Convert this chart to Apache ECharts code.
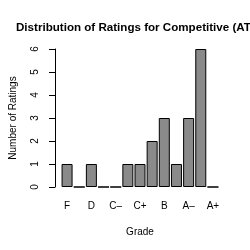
<!DOCTYPE html>
<html>
<head>
<meta charset="utf-8">
<script src="https://cdn.jsdelivr.net/npm/echarts@6/dist/echarts.min.js"></script>
<style>
  html, body { margin: 0; padding: 0; background: #fff; }
  #chart { width: 250px; height: 250px; }
</style>
</head>
<body>
<div id="chart"></div>
<script>
// grades and rating counts
var grades = ["F", "D-", "D", "D+", "C-", "C", "C+", "B-", "B", "B+", "A-", "A", "A+"];
var gradeLabels = ["F", "D-", "D", "D+", "C\u2013", "C", "C+", "B-", "B", "B+", "A\u2013", "A", "A+"];
var counts = [1, 0, 1, 0, 0, 1, 1, 2, 3, 1, 3, 6, 0];
var yTicks = [0, 1, 2, 3, 4, 5, 6];

var font = "Liberation Sans";
var chart = echarts.init(document.getElementById("chart"));

chart.setOption({
    animation: false,
    backgroundColor: "#fff",
    title: {
        text: "Distribution of Ratings for Competitive (ATP)",
        left: 11,
        top: 17,
        textStyle: {
            fontFamily: font,
            fontSize: 11.6,
            fontWeight: "bold",
            color: "#000",
        },
    },
    grid: {
        left: 55,
        right: 31,
        top: 49,
        bottom: 63,
    },
    xAxis: {
        type: "category",
        data: gradeLabels,
        name: "Grade",
        nameLocation: "middle",
        nameGap: 40,
        nameTextStyle: { fontFamily: font, fontSize: 10, color: "#000" },
        axisLine: { show: false },
        axisTick: { show: false },
        axisLabel: {
            interval: 1,
            margin: 14,
            fontFamily: font,
            fontSize: 10,
            color: "#000",
        },
    },
    yAxis: {
        type: "value",
        min: yTicks[0],
        max: yTicks[yTicks.length - 1],
        interval: 1,
        offset: 6,
        name: "Number of Ratings",
        nameLocation: "middle",
        nameGap: 37,
        nameTextStyle: { fontFamily: font, fontSize: 10, color: "#000" },
        axisLine: { show: true, lineStyle: { color: "#000", width: 1 } },
        axisTick: { show: true, length: 6, lineStyle: { color: "#000" } },
        splitLine: { show: false },
        axisLabel: {
            rotate: 90,
            margin: 15,
            fontFamily: font,
            fontSize: 10,
            color: "#000",
        },
    },
    series: [
        {
            type: "bar",
            data: counts,
            barWidth: 11,
            itemStyle: {
                color: "#8a8a8a",
                borderColor: "#000",
                borderWidth: 1,
            },
        },
    ],
});
</script>
</body>
</html>
